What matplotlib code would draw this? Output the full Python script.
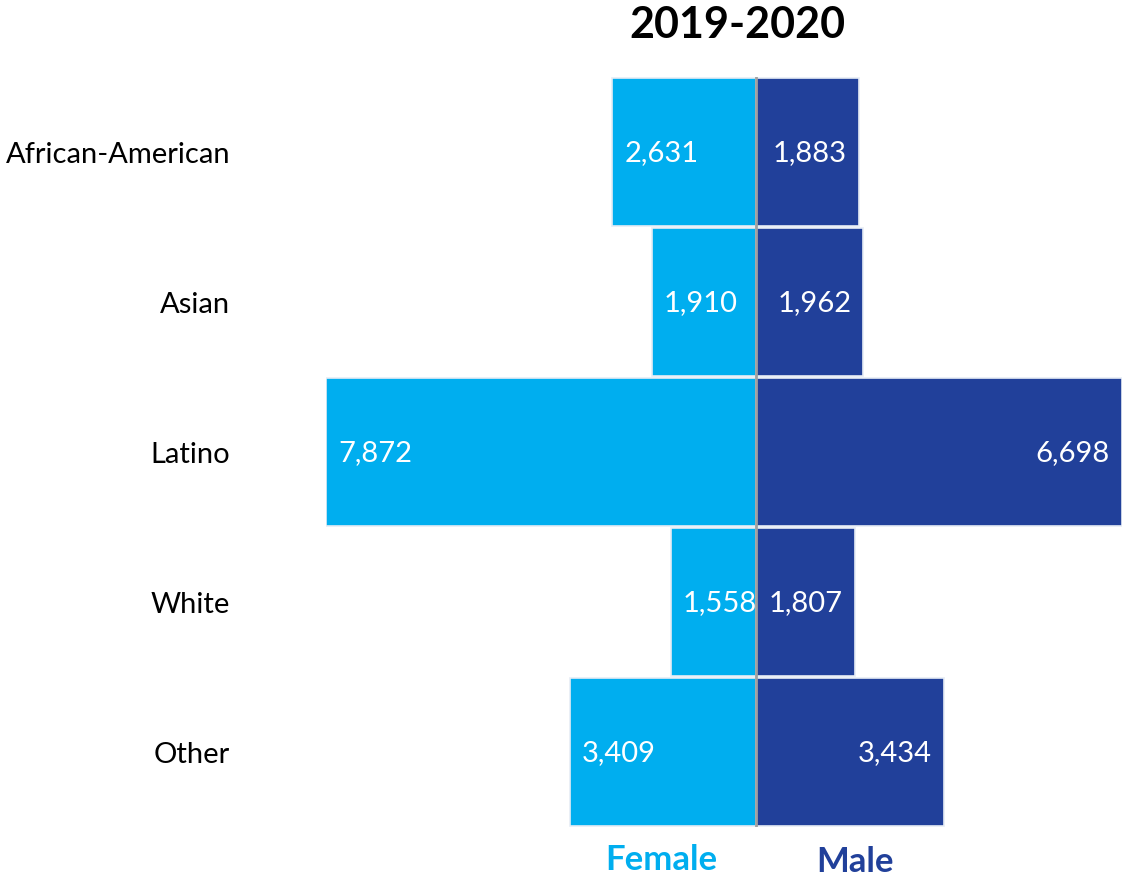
import matplotlib.pyplot as plt

# data
groups = ['African-American', 'Asian', 'Latino', 'White', 'Other']
female = [2631, 1910, 7872, 1558, 3409]
male = [1883, 1962, 6698, 1807, 3434]

female_color = '#00AEEF'
male_color = '#21409A'

W, H = 1123, 878
fig = plt.figure(figsize=(W / 100, H / 100), dpi=100)

# axes covers just the bar area, centre line at px 756
ax = fig.add_axes([326 / W, 1 - 828 / H, (1122 - 326) / W, (828 - 78) / H])
ypos = list(range(len(groups)))

ax.barh(ypos, [-v for v in female], height=0.99, color=female_color,
        edgecolor='#e6ecf5', linewidth=1.2)
ax.barh(ypos, male, height=0.99, color=male_color,
        edgecolor='#e6ecf5', linewidth=1.2)
ax.set_xlim(-max(female), max(male))
ax.set_ylim(len(groups) - 0.5, -0.5)
ax.axvline(0, color='#a0a0a0', lw=2)

font = 'Lato'
for y, f, m in zip(ypos, female, male):
    ax.annotate(f'{f:,}', (-f, y), xytext=(12, 0), textcoords='offset pixels',
                ha='left', va='center', color='white', fontsize=21, family=font)
    ax.annotate(f'{m:,}', (m, y), xytext=(-12, 0), textcoords='offset pixels',
                ha='right', va='center', color='white', fontsize=21, family=font)

ax.set_yticks(ypos)
ax.set_yticklabels(groups, fontsize=21, family=font)
ax.tick_params(axis='y', length=0, pad=69)
ax.set_xticks([])
for s in ax.spines.values():
    s.set_visible(False)

fig.text(737 / W, 1 - 25 / H, '2019-2020', ha='center', va='center',
         fontsize=31, fontweight='bold', family=font)
fig.text(661 / W, 1 - 860 / H, 'Female', ha='center', va='center',
         fontsize=25, fontweight='bold', color=female_color, family=font)
fig.text(855 / W, 1 - 862 / H, 'Male', ha='center', va='center',
         fontsize=25, fontweight='bold', color=male_color, family=font)

fig.savefig('out.png', dpi=100)
